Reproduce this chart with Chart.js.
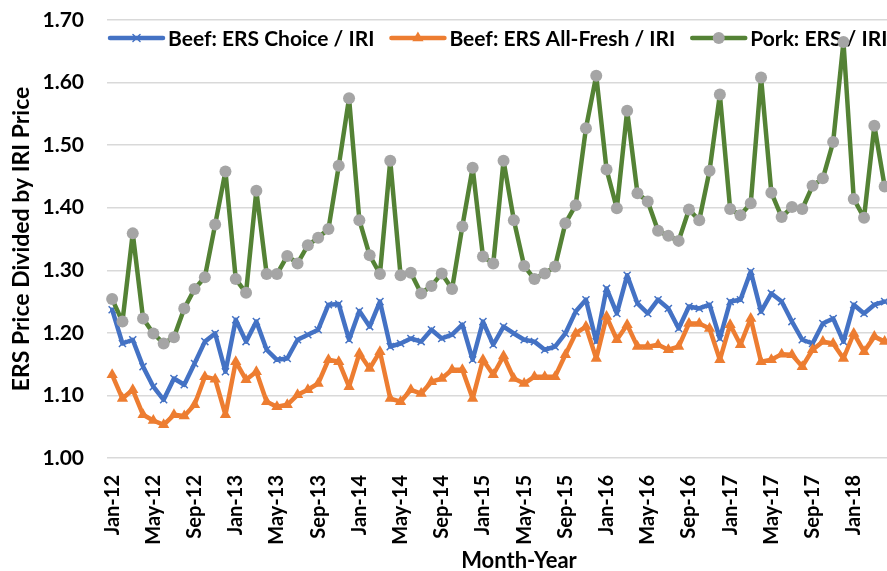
<!DOCTYPE html>
<html>
<head>
<meta charset="utf-8">
<script src="https://cdn.jsdelivr.net/npm/chart.js@4.4.0/dist/chart.umd.min.js"></script>
<style>
  html, body { margin: 0; padding: 0; background: #fff; overflow: hidden; }
  #wrap { width: 940px; height: 571px; }
</style>
</head>
<body>
<div id="wrap"><canvas id="chart" width="940" height="571"></canvas></div>
<script>
// categories: Jan-12 .. Aug-18 (the picture is cropped after Apr-18)
const monthNames = ["Jan", "Feb", "Mar", "Apr", "May", "Jun", "Jul", "Aug", "Sep", "Oct", "Nov", "Dec"];
const years = ["12", "13", "14", "15", "16", "17", "18"];
const lastMonthIndex = 7; // Aug-18
const lastVisibleLabel = "Jan-18";

const months = [];
years.forEach((yr, yi) => {
  monthNames.forEach((m, mi) => {
    if (yi === years.length - 1 && mi > lastMonthIndex) return;
    months.push(m + "-" + yr);
  });
});

const yTicks = [1.00, 1.10, 1.20, 1.30, 1.40, 1.50, 1.60, 1.70];

const beefChoice = [
  1.237, 1.183, 1.189, 1.146, 1.114, 1.093, 1.127, 1.117, 1.151, 1.186, 1.199, 1.138,
  1.221, 1.186, 1.218, 1.173, 1.157, 1.159, 1.189, 1.197, 1.205, 1.245, 1.246, 1.189,
  1.235, 1.210, 1.250, 1.178, 1.183, 1.191, 1.186, 1.205, 1.191, 1.197, 1.213, 1.157,
  1.218, 1.181, 1.210, 1.199, 1.189, 1.186, 1.173, 1.178, 1.199, 1.234, 1.253, 1.186,
  1.271, 1.231, 1.292, 1.247, 1.231, 1.253, 1.239, 1.207, 1.242, 1.239, 1.245, 1.191,
  1.250, 1.253, 1.298, 1.234, 1.263, 1.250, 1.218, 1.189, 1.183, 1.215, 1.223, 1.186,
  1.245, 1.231, 1.245, 1.250, null, null, null, null
];

const beefAllFresh = [
  1.133, 1.095, 1.109, 1.069, 1.060, 1.053, 1.069, 1.067, 1.085, 1.130, 1.126, 1.069,
  1.154, 1.125, 1.138, 1.090, 1.082, 1.085, 1.101, 1.109, 1.119, 1.157, 1.154, 1.114,
  1.167, 1.143, 1.170, 1.095, 1.090, 1.109, 1.103, 1.122, 1.127, 1.141, 1.141, 1.095,
  1.157, 1.133, 1.163, 1.127, 1.119, 1.130, 1.130, 1.130, 1.165, 1.199, 1.210, 1.159,
  1.226, 1.189, 1.213, 1.178, 1.178, 1.181, 1.173, 1.178, 1.215, 1.215, 1.207, 1.157,
  1.213, 1.181, 1.223, 1.154, 1.157, 1.166, 1.165, 1.146, 1.173, 1.186, 1.183, 1.159,
  1.199, 1.170, 1.194, 1.186, null, null, null, null
];

const pork = [
  1.254, 1.218, 1.359, 1.223, 1.199, 1.183, 1.193, 1.239, 1.270, 1.289, 1.373, 1.458,
  1.286, 1.264, 1.427, 1.294, 1.294, 1.323, 1.311, 1.340, 1.352, 1.366, 1.467, 1.575,
  1.380, 1.324, 1.294, 1.475, 1.292, 1.296, 1.263, 1.275, 1.295, 1.270, 1.370, 1.464,
  1.322, 1.311, 1.475, 1.380, 1.307, 1.286, 1.295, 1.306, 1.375, 1.404, 1.527, 1.611,
  1.461, 1.399, 1.555, 1.423, 1.410, 1.363, 1.355, 1.347, 1.397, 1.380, 1.459, 1.581,
  1.398, 1.388, 1.407, 1.608, 1.424, 1.385, 1.401, 1.398, 1.435, 1.447, 1.505, 1.665,
  1.414, 1.384, 1.531, 1.434, null, null, null, null
];

const FONT = "Lato, 'Open Sans', sans-serif";
const lastLabelIdx = months.indexOf(lastVisibleLabel);

// legend drawn inside the plot, under the lines
const topLegend = {
  id: "topLegend",
  beforeDatasetsDraw(chart) {
    const ctx = chart.ctx;
    const area = chart.chartArea;
    const lineLen = 53, gap = 5, spacing = 17;
    ctx.save();
    ctx.font = "bold 21px " + FONT;
    ctx.textBaseline = "middle";
    let x = 110;
    const y = area.top + 18;
    chart.data.datasets.forEach(d => {
      ctx.strokeStyle = d.borderColor;
      ctx.lineWidth = d.borderWidth;
      ctx.lineCap = "round";
      ctx.beginPath();
      ctx.moveTo(x, y);
      ctx.lineTo(x + lineLen, y);
      ctx.stroke();
      ctx.fillStyle = d.pointBackgroundColor;
      ctx.strokeStyle = d.pointBorderColor;
      ctx.lineWidth = d.pointBorderWidth;
      Chart.helpers.drawPoint(ctx, {
        pointStyle: d.pointStyle, radius: d.pointRadius, rotation: 0, borderWidth: d.pointBorderWidth
      }, x + lineLen / 2, y);
      ctx.fillStyle = "#000";
      ctx.fillText(d.label, x + lineLen + gap, y + 1);
      x += lineLen + gap + ctx.measureText(d.label).width + spacing;
    });
    ctx.restore();
  }
};

new Chart(document.getElementById("chart"), {
  type: "line",
  data: {
    labels: months,
    datasets: [
      {
        label: "Beef: ERS Choice / IRI",
        data: beefChoice,
        borderColor: "#4472C4",
        borderWidth: 4.5,
        borderJoinStyle: "round",
        borderCapStyle: "round",
        pointStyle: "crossRot",
        pointRadius: 5,
        pointBorderWidth: 1.5,
        pointBorderColor: "#4472C4",
        pointBackgroundColor: "#4472C4",
        tension: 0,
        order: 2
      },
      {
        label: "Beef: ERS All-Fresh / IRI",
        data: beefAllFresh,
        borderColor: "#ED7D31",
        borderWidth: 4.5,
        borderJoinStyle: "round",
        borderCapStyle: "round",
        pointStyle: "triangle",
        pointRadius: 6.5,
        pointBorderWidth: 0,
        pointBorderColor: "#ED7D31",
        pointBackgroundColor: "#ED7D31",
        tension: 0,
        order: 1
      },
      {
        label: "Pork: ERS / IRI",
        data: pork,
        borderColor: "#548235",
        borderWidth: 4.5,
        borderJoinStyle: "round",
        borderCapStyle: "round",
        pointStyle: "circle",
        pointRadius: 6,
        pointBorderWidth: 0,
        pointBorderColor: "#A5A5A5",
        pointBackgroundColor: "#A5A5A5",
        tension: 0,
        order: 0
      }
    ]
  },
  options: {
    responsive: false,
    animation: false,
    layout: { padding: { top: 20, right: 9, bottom: 0, left: 0 } },
    plugins: {
      legend: { display: false },
      tooltip: { enabled: false }
    },
    scales: {
      x: {
        offset: true,
        grid: { display: false, drawTicks: false },
        border: { display: false },
        ticks: {
          autoSkip: false,
          minRotation: 90,
          maxRotation: 90,
          padding: 17,
          color: "#000",
          font: { family: FONT, size: 20, weight: "bold" },
          callback: (v, i) => (i % 4 === 0 && i <= lastLabelIdx ? months[i] : "")
        },
        title: {
          display: true,
          text: "Month-Year",
          color: "#000",
          font: { family: FONT, size: 22, weight: "bold", lineHeight: 0.9 },
          padding: { top: 0, bottom: 0 }
        },
        afterFit: s => {
          s.height = 113;
          s.paddingLeft = 0;
          s.paddingRight = 0;
        }
      },
      y: {
        min: yTicks[0],
        max: yTicks[yTicks.length - 1],
        afterBuildTicks: s => { s.ticks = yTicks.map(v => ({ value: v })); },
        grid: { color: "#d9d9d9", lineWidth: 1.5, drawTicks: false },
        border: { display: false },
        ticks: {
          padding: 23,
          color: "#000",
          font: { family: FONT, size: 21, weight: "bold" },
          callback: v => Number(v).toFixed(2)
        },
        title: {
          display: true,
          text: "ERS Price Divided by IRI Price",
          color: "#000",
          font: { family: FONT, size: 23, weight: "bold" },
          padding: { top: 8, bottom: 0 }
        },
        afterFit: s => {
          s.width = 107;
          s.paddingTop = 0;
          s.paddingBottom = 0;
        }
      }
    }
  },
  plugins: [topLegend]
});
</script>
</body>
</html>
